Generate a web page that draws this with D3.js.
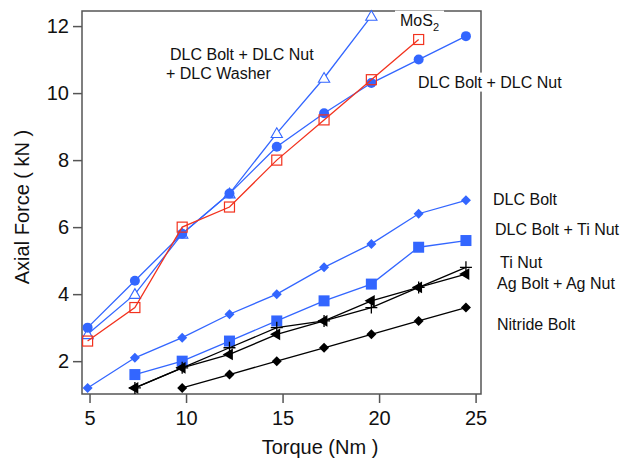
<!DOCTYPE html>
<html>
<head>
<meta charset="utf-8">
<script src="https://cdn.jsdelivr.net/npm/d3@7"></script>
<style>
  body { margin: 0; background: #fff; }
  text { font-family: "Liberation Sans", Arial, Helvetica, sans-serif; fill: #111; }
</style>
</head>
<body>
<div id="chart"></div>
<script>
// Torque values (Nm)
let torque = [4.9, 7.35, 9.8, 12.25, 14.7, 17.15, 19.6, 22.05, 24.5];

// Axial force (kN) for every coating, null = not measured
let mos2 = [2.8, 4.0, 5.8, 7.0, 8.8, 10.45, 12.3, null, null];
let dlcBoltNut = [3.0, 4.4, 5.8, 7.0, 8.4, 9.4, 10.3, 11.0, 11.7];
let dlcBoltNutWasher = [2.6, 3.6, 6.0, 6.6, 8.0, 9.2, 10.4, 11.6, null];
let dlcBolt = [1.2, 2.1, 2.7, 3.4, 4.0, 4.8, 5.5, 6.4, 6.8];
let dlcBoltTiNut = [null, 1.6, 2.0, 2.6, 3.2, 3.8, 4.3, 5.4, 5.6];
let tiNut = [null, 1.2, 1.8, 2.4, 3.0, 3.2, 3.6, 4.2, 4.8];
let agBoltAgNut = [null, 1.2, 1.8, 2.2, 2.8, 3.2, 3.8, 4.2, 4.6];
let nitrideBolt = [null, null, 1.2, 1.6, 2.0, 2.4, 2.8, 3.2, 3.6];

let xTicks = [5, 10, 15, 20, 25];
let yTicks = [2, 4, 6, 8, 10, 12];

let blue = "#3366ff";
let red = "#f2321e";
let black = "#000";

let series = [
    { vals: dlcBolt, color: blue, mark: "diamond" },
    { vals: dlcBoltTiNut, color: blue, mark: "square" },
    { vals: nitrideBolt, color: black, mark: "diamond" },
    { vals: tiNut, color: black, mark: "plus" },
    { vals: agBoltAgNut, color: black, mark: "left" },
    { vals: mos2, color: blue, mark: "triangle" },
    { vals: dlcBoltNut, color: blue, mark: "circle" },
    { vals: dlcBoltNutWasher, color: red, mark: "opensquare" }
];

let W = 624, H = 460;

let x = d3.scaleLinear().domain([4.61, 25.28]).range([82, 481]);
let y = d3.scaleLinear().domain([1.02, 12.45]).range([394, 11]);

let svg = d3.select("#chart").append("svg")
    .attr("width", W)
    .attr("height", H);

// axes
let frameColor = "#555";

let gx = svg.append("g")
    .attr("transform", "translate(0," + y.range()[0] + ")")
    .call(d3.axisBottom(x).tickValues(xTicks).tickSize(9).tickPadding(8));
let gy = svg.append("g")
    .attr("transform", "translate(" + x.range()[0] + ",0)")
    .call(d3.axisLeft(y).tickValues(yTicks).tickSize(9).tickPadding(4));

[gx, gy].forEach(function (g) {
    g.select(".domain").remove();
    g.selectAll("line").attr("stroke", frameColor).attr("stroke-width", 1.5);
    g.selectAll("text").style("font-size", "20px").attr("fill", "#111");
});

// frame
svg.append("rect")
    .attr("x", x.range()[0])
    .attr("y", y.range()[1])
    .attr("width", x.range()[1] - x.range()[0])
    .attr("height", y.range()[0] - y.range()[1])
    .attr("fill", "none")
    .attr("stroke", frameColor)
    .attr("stroke-width", 1.5);

// axis titles
svg.append("text")
    .attr("x", 320)
    .attr("y", 454)
    .attr("text-anchor", "middle")
    .style("font-size", "20px")
    .text("Torque (Nm )");

svg.append("text")
    .attr("transform", "translate(29,207) rotate(-90)")
    .attr("text-anchor", "middle")
    .style("font-size", "20px")
    .text("Axial Force ( kN )");

// lines and markers
let line = d3.line()
    .defined(function (d) { return d[1] != null; })
    .x(function (d) { return x(d[0]); })
    .y(function (d) { return y(d[1]); });

function marker(g, kind, color) {
    if (kind == "circle") {
        g.append("circle").attr("r", 5).attr("fill", color);
    } else if (kind == "square") {
        g.append("rect").attr("x", -5.5).attr("y", -5.5).attr("width", 11).attr("height", 11).attr("fill", color);
    } else if (kind == "opensquare") {
        g.append("rect").attr("x", -5).attr("y", -5).attr("width", 10).attr("height", 10)
            .attr("fill", "none").attr("stroke", color).attr("stroke-width", 1.2);
    } else if (kind == "diamond") {
        g.append("path").attr("d", d3.symbol(d3.symbolSquare, 50)()).attr("transform", "rotate(45)").attr("fill", color);
    } else if (kind == "triangle") {
        g.append("path").attr("d", d3.symbol(d3.symbolTriangle, 55)()).attr("transform", "translate(0,1)")
            .attr("fill", "#fff").attr("stroke", color).attr("stroke-width", 1.1);
    } else if (kind == "left") {
        g.append("path").attr("d", d3.symbol(d3.symbolTriangle, 60)()).attr("transform", "rotate(-90)").attr("fill", color);
    } else if (kind == "plus") {
        g.append("path").attr("d", "M-6,0H6M0,-6V6").attr("stroke", color).attr("stroke-width", 1.3);
    }
}

series.forEach(function (s) {
    let pts = torque.map(function (t, i) { return [t, s.vals[i]]; });
    svg.append("path")
        .datum(pts)
        .attr("d", line)
        .attr("fill", "none")
        .attr("stroke", s.color)
        .attr("stroke-width", 1.3);
    pts.filter(function (d) { return d[1] != null; }).forEach(function (d) {
        let g = svg.append("g").attr("transform", "translate(" + x(d[0]) + "," + y(d[1]) + ")");
        marker(g, s.mark, s.color);
    });
});

// labels (some with a white box that hides the frame behind them)
function label(txt, lx, ly, bg) {
    let t = svg.append("text")
        .attr("x", lx)
        .attr("y", ly)
        .attr("dy", "0.35em")
        .style("font-size", "16px");
    if (txt == "MoS2") {
        t.append("tspan").text("MoS");
        t.append("tspan").attr("dy", 5).style("font-size", "11px").text("2");
    } else {
        t.text(txt);
    }
    if (bg) {
        let b = t.node().getBBox();
        let r = document.createElementNS("http://www.w3.org/2000/svg", "rect");
        svg.node().insertBefore(r, t.node());
        d3.select(r)
            .attr("x", b.x - 5)
            .attr("y", b.y - 1)
            .attr("width", b.width + 10)
            .attr("height", b.height + 2)
            .attr("fill", "#fff");
    }
}

label("MoS2", 400, 20, true);
label("DLC Bolt + DLC Nut", 170, 54, false);
label("+ DLC Washer", 166, 73, false);
label("DLC Bolt + DLC Nut", 418, 82, true);
label("DLC Bolt", 493, 199, false);
label("DLC Bolt + Ti Nut", 495, 229, false);
label("Ti Nut", 500, 262, false);
label("Ag Bolt + Ag Nut", 497, 283, false);
label("Nitride Bolt", 497, 324, false);
</script>
</body>
</html>
